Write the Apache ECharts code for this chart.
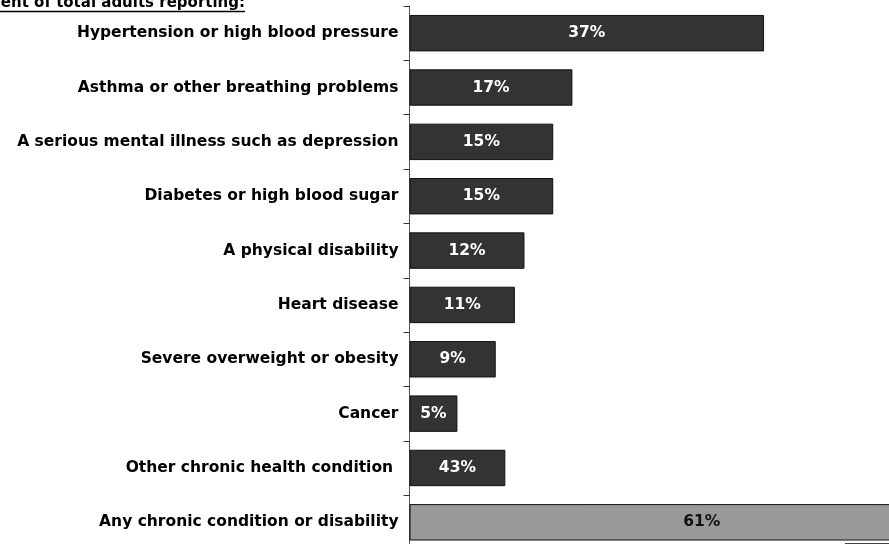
<!DOCTYPE html>
<html>
<head>
<meta charset="utf-8">
<script src="https://cdn.jsdelivr.net/npm/echarts@6/dist/echarts.min.js"></script>
<style>html,body{margin:0;padding:0;background:#fff;overflow:hidden;width:889px;height:544px}#c{width:994px;height:550px}</style>
</head>
<body>
<div id="c"></div>
<script>
const categories = [
  "Hypertension or high blood pressure",
  "Asthma or other breathing problems",
  "A serious mental illness such as depression",
  "Diabetes or high blood sugar",
  "A physical disability",
  "Heart disease",
  "Severe overweight or obesity",
  "Cancer",
  "Other chronic health condition ",
  "Any chronic condition or disability"
];
// bar lengths as drawn (percent)
const barValues = [37, 17, 15, 15, 12, 11, 9, 5, 10, 61];
// label texts printed on bars
const barLabels = ["37%", "17%", "15%", "15%", "12%", "11%", "9%", "5%", "43%", "61%"];
const titleText = "Percent of total adults reporting:";

const chart = echarts.init(document.getElementById('c'));
const font = "'DejaVu Sans', sans-serif";
const data = barValues.map((v, i) => {
  const last = i === barValues.length - 1;
  return {
    value: v,
    itemStyle: { color: last ? '#999999' : '#333333', borderColor: '#111', borderWidth: 1 },
    label: { color: last ? '#111' : '#ffffff' }
  };
});
chart.setOption({
  animation: false,
  grid: { left: 409.5, top: 6, bottom: 0.5, right: 0, containLabel: false },
  xAxis: { type: 'value', min: 0, max: 61, show: false, splitLine: { show: false } },
  yAxis: {
    type: 'category', inverse: true, data: categories,
    axisLine: { show: true, lineStyle: { color: '#555', width: 1 } },
    axisTick: { show: true, length: 6, lineStyle: { color: '#333' } },
    axisLabel: { margin: 11, color: '#000', fontWeight: 'bold', fontSize: 15.5, fontFamily: font }
  },
  series: [{
    type: 'bar', data: data, barCategoryGap: '33%',
    label: {
      show: true, position: 'inside', fontWeight: 'bold', fontSize: 15.5, fontFamily: font,
      formatter: p => barLabels[p.dataIndex]
    }
  }],
  graphic: [
    { type: 'text', x: 245, y: 3.5,
      style: { text: titleText, font: 'bold 15px ' + font, fill: '#000', align: 'right', verticalAlign: 'middle' } },
    { type: 'line', shape: { x1: 0, y1: 11.5, x2: 245, y2: 11.5 }, style: { stroke: '#000', lineWidth: 1.5 } },
    { type: 'rect', shape: { x: 845, y: 543, width: 60, height: 1.5 }, style: { fill: '#1f4e79' } }
  ]
});
</script>
</body>
</html>
